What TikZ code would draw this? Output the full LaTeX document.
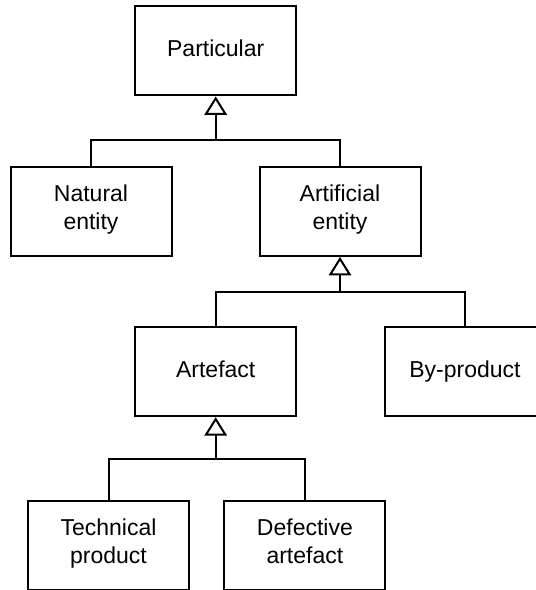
\documentclass[tikz,border=0pt]{standalone}
\usepackage{fontspec}
\setmainfont{Liberation Sans}
\usetikzlibrary{arrows.meta}
\begin{document}
\begin{tikzpicture}[x=1pt,y=-1pt,
  cls/.style={draw, line width=2pt, fill=white, minimum width=161pt, minimum height=89pt,
    inner sep=0pt, align=center, font=\fontsize{23}{27.6}\selectfont,
    execute at begin node=\strut, execute at end node=\strut},
  link/.style={line width=2pt},
  gen/.style={link, -{Triangle[open, length=18.5pt, width=22.5pt, line width=2pt]}}]
\useasboundingbox (0,0) rectangle (536,590);
\clip (0,0) rectangle (536,590);

% classes
\node[cls] (part) at (215.7,50.9) {Particular};
\node[cls] (nat)  at (91,211.4)   {Natural\\entity};
\node[cls] (arti) at (340,211.4)  {Artificial\\entity};
\node[cls] (artf) at (215.7,371.7) {Artefact};
\node[cls] (byp)  at (465,371.7)  {By-product};
\node[cls] (tech) at (108.5,545)  {Technical\\product};
\node[cls] (defc) at (304.9,545)  {Defective\\artefact};

% junction points of the generalisation trees
\coordinate (j1) at (215.7,140);
\coordinate (j2) at (340,291.7);
\coordinate (j3) at (215.7,459.3);

% generalisations
\draw[gen] (nat.north) |- (j1) -- (part.south);
\draw[link] (arti.north) |- (j1);
\draw[gen] (artf.north) |- (j2) -- (arti.south);
\draw[link] (byp.north) |- (j2);
\draw[gen] (tech.north) |- (j3) -- (artf.south);
\draw[link] (defc.north) |- (j3);
\end{tikzpicture}
\end{document}
